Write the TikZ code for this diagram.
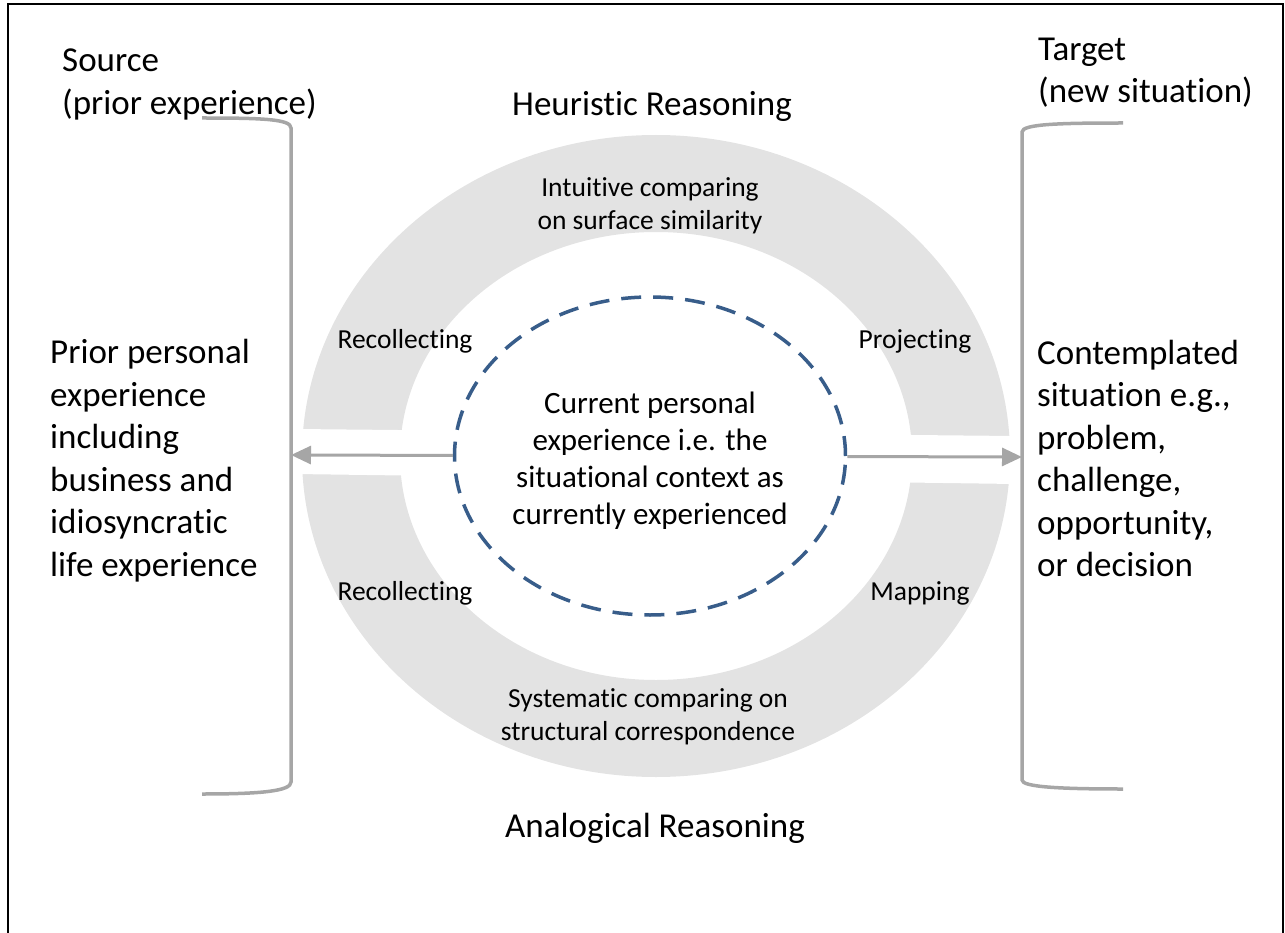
\documentclass[tikz,border=0pt]{standalone}
\usepackage{fontspec}
\setmainfont{Carlito}[Ligatures=NoCommon]
\usetikzlibrary{arrows.meta,shapes.geometric,positioning}
\definecolor{hellgrau}{RGB}{227,227,227}
\definecolor{grau}{RGB}{166,166,166}
\definecolor{blau}{RGB}{56,93,138}

\begin{document}
\begin{tikzpicture}[x=1pt, y=-1pt,
                      side/.style = {
                        font=\fontsize{35}{42.5}\selectfont,
                        align=left, inner sep=0pt, anchor=west
                      },
                      heading/.style = {
                        font=\fontsize{35}{42.5}\selectfont,
                        inner sep=0pt
                      },
                      phase/.style = {
                        font=\fontsize{27.5}{33}\selectfont,
                        align=center, inner sep=0pt
                      },
                      current/.style = {
                        ellipse, draw=blau, line width=3.5pt,
                        dash pattern=on 20pt off 12pt,
                        minimum width=391pt, minimum height=318pt,
                        inner sep=0pt, align=center,
                        font=\fontsize{31}{36.7}\selectfont
                      },
                      bracket/.style = {
                        draw=grau, line width=3.5pt
                      },
                      link/.style = {
                        draw=grau, fill=grau, line width=3pt,
                        -{Triangle[length=20pt, width=18pt]}
                      }]
    \useasboundingbox (0,0) rectangle (1285,933);
    \draw[line width=1.5pt] (8,940) -- (8,4) -- (1283,4) -- (1283,940);

    % ring, split by the white band
    \fill[hellgrau, even odd rule]
      (656,456) ellipse [x radius=354, y radius=321]
      (656,456) ellipse [x radius=256, y radius=224];
    \fill[white] (295,429) -- (1015,436) -- (1015,484) -- (295,474) -- cycle;

    % brackets
    \draw[bracket] (202,118) .. controls (262,118) and (291,119) .. (291,128)
      -- (291,782) .. controls (291,791) and (262,794) .. (202,794);
    \draw[bracket] (1123,123) .. controls (1060,123) and (1022,124) .. (1022,132)
      -- (1022,780) .. controls (1022,787) and (1060,789) .. (1123,789);
    \coordinate (srcpt) at (291,455);
    \coordinate (tgtpt) at (1022,457);

    \node(source)[side] at (62,84.5) {Source\\(prior experience)};
    \node(target)[side] at (1038,72.5) {Target\\(new situation)};
    \node(prior)[side] at (50,460.5) {Prior personal\\experience\\including\\business and\\idiosyncratic\\life experience};
    \node(contemp)[side] at (1037,458.5) {Contemplated\\situation e.g.,\\problem,\\challenge,\\opportunity,\\or decision};

    \node(heuristic)[heading] at (652,106) {Heuristic Reasoning};
    \node(analogical)[heading] at (655,828) {Analogical Reasoning};

    \node(intuitive)[phase] at (650,205.5) {Intuitive comparing\\on surface similarity};
    \node(systematic)[phase] at (648,717) {Systematic comparing on\\structural correspondence};
    \node(recolltop)[phase] at (405,341) {Recollecting};
    \node(project)[phase] at (915,341) {Projecting};
    \node(recollbot)[phase] at (405,593) {Recollecting};
    \node(mapping)[phase] at (920,593) {Mapping};

    \node(now)[current] at (650,456) {\rule{0pt}{31pt}Current personal\\experience i.e. the\\situational context as\\currently experienced};

    \draw[link] (now) -- (srcpt);
    \draw[link] (now) -- (tgtpt);
  \end{tikzpicture}
\end{document}
